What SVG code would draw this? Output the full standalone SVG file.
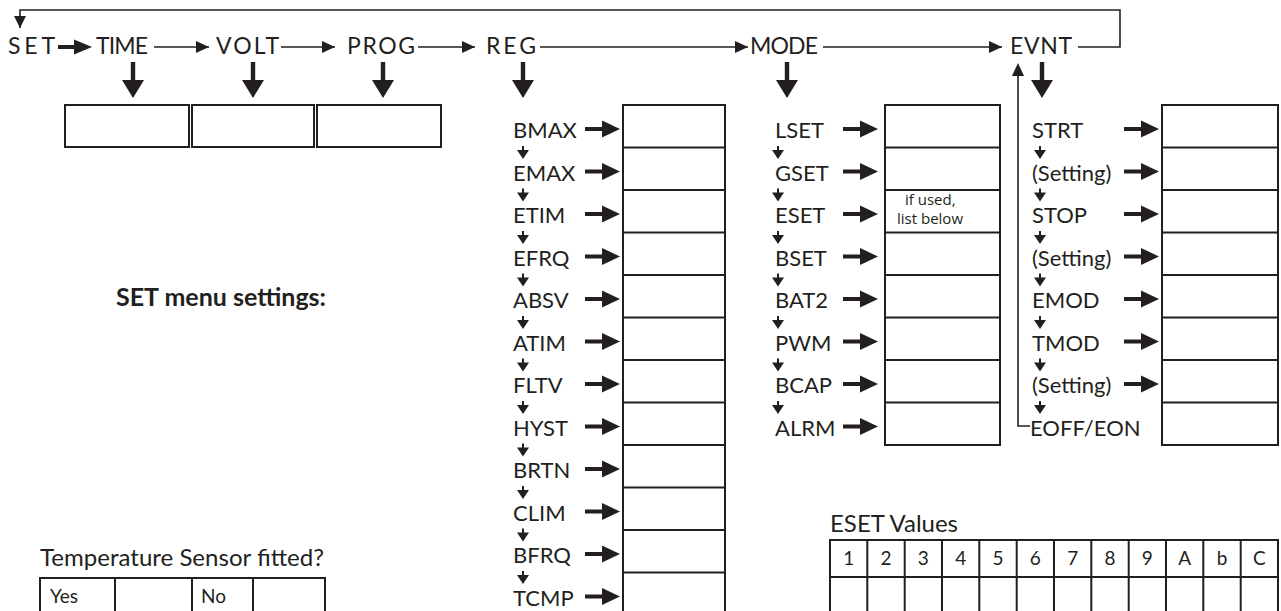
<svg xmlns="http://www.w3.org/2000/svg" xmlns:xlink="http://www.w3.org/1999/xlink" width="1281" height="611" viewBox="0 0 1281 611">
<style>
text{font-family:Lato,"Open Sans","Liberation Sans",sans-serif;fill:#231f20}
.top{font-size:23px}
.lab{font-size:22px}
.note{font-family:"Open Sans","Liberation Sans",sans-serif;font-size:15px}
.bold{font-size:25px;font-weight:bold}
.cap{font-size:24px}
.cell{font-size:19px}
.box{fill:#fff;stroke:#231f20;stroke-width:2}
.div{stroke:#231f20;stroke-width:2}
.thin{stroke:#231f20;stroke-width:1.6;fill:none}
.thick{stroke:#231f20;stroke-width:4}
.head{fill:#231f20}
</style>
<defs>
<marker id="ah" markerUnits="userSpaceOnUse" markerWidth="13" markerHeight="12" refX="13" refY="6" orient="auto"><path d="M0,0L13,6L0,12z" fill="#231f20"/></marker>
<g id="bdown"><rect x="-2.2" y="0" width="4.4" height="20" fill="#231f20"/><path d="M-11,18L11,18L0,36z" fill="#231f20"/></g>
<g id="rarr"><rect x="0" y="-2" width="20" height="4" fill="#231f20"/><path d="M17,-8.5L35,0L17,8.5z" fill="#231f20"/></g>
<g id="sdown"><rect x="-1" y="0" width="2" height="6" fill="#231f20"/><path d="M-6,4L6,4L0,13z" fill="#231f20"/></g>
</defs>

<g id="connectors">
<path class="thin" d="M1078,47H1120V10H20V28" />
<path d="M14,16L26,16L20,28z" class="head"/>
<line class="thick" x1="58" y1="47" x2="76" y2="47"/>
<path class="head" d="M74,39.5L92,47L74,54.5z"/>
<line class="thin" x1="154" y1="47" x2="209" y2="47" marker-end="url(#ah)"/>
<line class="thin" x1="281" y1="47" x2="335" y2="47" marker-end="url(#ah)"/>
<line class="thin" x1="418" y1="47" x2="475" y2="47" marker-end="url(#ah)"/>
<line class="thin" x1="540" y1="47" x2="748" y2="47" marker-end="url(#ah)"/>
<line class="thin" x1="823" y1="47" x2="1002" y2="47" marker-end="url(#ah)"/>
<use xlink:href="#bdown" x="133" y="62"/>
<use xlink:href="#bdown" x="253" y="62"/>
<use xlink:href="#bdown" x="383" y="62"/>
<use xlink:href="#bdown" x="523" y="62"/>
<use xlink:href="#bdown" x="787" y="62"/>
<use xlink:href="#bdown" x="1042" y="62"/>
<path class="thin" d="M1018,74V426H1030"/>
<path class="head" d="M1012,76L1024,76L1018,63z"/>
<!-- REG small down arrows -->
<use xlink:href="#sdown" x="523" y="146"/>
<use xlink:href="#sdown" x="523" y="188.5"/>
<use xlink:href="#sdown" x="523" y="231"/>
<use xlink:href="#sdown" x="523" y="273.5"/>
<use xlink:href="#sdown" x="523" y="316"/>
<use xlink:href="#sdown" x="523" y="358.5"/>
<use xlink:href="#sdown" x="523" y="401"/>
<use xlink:href="#sdown" x="523" y="443.5"/>
<use xlink:href="#sdown" x="523" y="486"/>
<use xlink:href="#sdown" x="523" y="528.5"/>
<use xlink:href="#sdown" x="523" y="571"/>
<!-- MODE small down arrows -->
<use xlink:href="#sdown" x="778" y="146"/>
<use xlink:href="#sdown" x="778" y="188.5"/>
<use xlink:href="#sdown" x="778" y="231"/>
<use xlink:href="#sdown" x="778" y="273.5"/>
<use xlink:href="#sdown" x="778" y="316"/>
<use xlink:href="#sdown" x="778" y="358.5"/>
<use xlink:href="#sdown" x="778" y="401"/>
<!-- EVNT small down arrows -->
<use xlink:href="#sdown" x="1040" y="146"/>
<use xlink:href="#sdown" x="1040" y="188.5"/>
<use xlink:href="#sdown" x="1040" y="231"/>
<use xlink:href="#sdown" x="1040" y="273.5"/>
<use xlink:href="#sdown" x="1040" y="316"/>
<use xlink:href="#sdown" x="1040" y="358.5"/>
<use xlink:href="#sdown" x="1040" y="401"/>
<!-- REG right arrows -->
<use xlink:href="#rarr" x="585" y="129"/>
<use xlink:href="#rarr" x="585" y="171.5"/>
<use xlink:href="#rarr" x="585" y="214"/>
<use xlink:href="#rarr" x="585" y="256.5"/>
<use xlink:href="#rarr" x="585" y="299"/>
<use xlink:href="#rarr" x="585" y="341.5"/>
<use xlink:href="#rarr" x="585" y="384"/>
<use xlink:href="#rarr" x="585" y="426.5"/>
<use xlink:href="#rarr" x="585" y="469"/>
<use xlink:href="#rarr" x="585" y="511.5"/>
<use xlink:href="#rarr" x="585" y="554"/>
<use xlink:href="#rarr" x="585" y="596.5"/>
<!-- MODE right arrows -->
<use xlink:href="#rarr" x="843" y="129"/>
<use xlink:href="#rarr" x="843" y="171.5"/>
<use xlink:href="#rarr" x="843" y="214"/>
<use xlink:href="#rarr" x="843" y="256.5"/>
<use xlink:href="#rarr" x="843" y="299"/>
<use xlink:href="#rarr" x="843" y="341.5"/>
<use xlink:href="#rarr" x="843" y="384"/>
<use xlink:href="#rarr" x="843" y="426.5"/>
<!-- EVNT right arrows -->
<use xlink:href="#rarr" x="1124" y="129"/>
<use xlink:href="#rarr" x="1124" y="171.5"/>
<use xlink:href="#rarr" x="1124" y="214"/>
<use xlink:href="#rarr" x="1124" y="256.5"/>
<use xlink:href="#rarr" x="1124" y="299"/>
<use xlink:href="#rarr" x="1124" y="341.5"/>
<use xlink:href="#rarr" x="1124" y="384"/>
</g>

<g id="node-set"><text class="top" x="8" y="54" textLength="47" lengthAdjust="spacing">SET</text></g>
<g id="node-time"><text class="top" x="96" y="54" textLength="52" lengthAdjust="spacing">TIME</text><rect class="box" x="65" y="105" width="124" height="42"/></g>
<g id="node-volt"><text class="top" x="216" y="54" textLength="63" lengthAdjust="spacing">VOLT</text><rect class="box" x="192" y="105" width="122" height="42"/></g>
<g id="node-prog"><text class="top" x="347" y="54" textLength="68" lengthAdjust="spacing">PROG</text><rect class="box" x="317" y="105" width="124" height="42"/></g>

<g id="node-reg">
<text class="top" x="486" y="54" textLength="50" lengthAdjust="spacing">REG</text>
<g class="lab">
<text x="513" y="138">BMAX</text>
<text x="513" y="180.5">EMAX</text>
<text x="513" y="223">ETIM</text>
<text x="513" y="265.5">EFRQ</text>
<text x="513" y="308">ABSV</text>
<text x="513" y="350.5">ATIM</text>
<text x="513" y="393">FLTV</text>
<text x="513" y="435.5">HYST</text>
<text x="513" y="478">BRTN</text>
<text x="513" y="520.5">CLIM</text>
<text x="513" y="563">BFRQ</text>
<text x="513" y="605.5">TCMP</text>
</g>
<rect class="box" x="623" y="105" width="102" height="530"/>
<path class="div" d="M623,147.5H725M623,190H725M623,232.5H725M623,275H725M623,317.5H725M623,360H725M623,402.5H725M623,445H725M623,487.5H725M623,530H725M623,572.5H725"/>
</g>

<g id="node-mode">
<text class="top" x="750" y="54" textLength="68" lengthAdjust="spacing">MODE</text>
<g class="lab">
<text x="775" y="138">LSET</text>
<text x="775" y="180.5">GSET</text>
<text x="775" y="223">ESET</text>
<text x="775" y="265.5">BSET</text>
<text x="775" y="308">BAT2</text>
<text x="775" y="350.5">PWM</text>
<text x="775" y="393">BCAP</text>
<text x="775" y="435.5">ALRM</text>
</g>
<rect class="box" x="885" y="105" width="115" height="340"/>
<path class="div" d="M885,147.5H1000M885,190H1000M885,232.5H1000M885,275H1000M885,317.5H1000M885,360H1000M885,402.5H1000"/>
<text class="note" x="905" y="205">if used,</text>
<text class="note" x="897" y="224">list below</text>
</g>

<g id="node-evnt">
<text class="top" x="1010" y="54" textLength="62" lengthAdjust="spacing">EVNT</text>
<g class="lab">
<text x="1032" y="138">STRT</text>
<text x="1032" y="180.5">(Setting)</text>
<text x="1032" y="223">STOP</text>
<text x="1032" y="265.5">(Setting)</text>
<text x="1032" y="308">EMOD</text>
<text x="1032" y="350.5">TMOD</text>
<text x="1032" y="393">(Setting)</text>
<text x="1030" y="435.5">EOFF/EON</text>
</g>
<rect class="box" x="1162" y="105" width="116" height="340"/>
<path class="div" d="M1162,147.5H1278M1162,190H1278M1162,232.5H1278M1162,275H1278M1162,317.5H1278M1162,360H1278M1162,402.5H1278"/>
</g>

<g id="title"><text class="bold" x="116" y="306">SET menu settings:</text></g>

<g id="temp-sensor">
<text class="cap" x="40" y="566" textLength="284" lengthAdjust="spacingAndGlyphs">Temperature Sensor fitted?</text>
<rect class="box" x="40" y="578" width="285" height="50"/>
<path class="div" d="M115,578V611M192,578V611M253,578V611"/>
<text class="cell" x="50" y="603">Yes</text>
<text class="cell" x="201" y="603">No</text>
</g>

<g id="eset-values">
<text class="cap" x="830" y="532" textLength="128" lengthAdjust="spacingAndGlyphs">ESET Values</text>
<rect class="box" x="830" y="540" width="448" height="90"/>
<path class="div" d="M830,577H1278M867.3,540V611M904.7,540V611M942,540V611M979.3,540V611M1016.7,540V611M1054,540V611M1091.3,540V611M1128.7,540V611M1166,540V611M1203.3,540V611M1240.7,540V611"/>
<g class="cell" text-anchor="middle">
<text x="848.7" y="565">1</text>
<text x="886" y="565">2</text>
<text x="923.3" y="565">3</text>
<text x="960.7" y="565">4</text>
<text x="998" y="565">5</text>
<text x="1035.3" y="565">6</text>
<text x="1072.7" y="565">7</text>
<text x="1110" y="565">8</text>
<text x="1147.3" y="565">9</text>
<text x="1184.7" y="565">A</text>
<text x="1222" y="565">b</text>
<text x="1259.3" y="565">C</text>
</g>
</g>
</svg>
